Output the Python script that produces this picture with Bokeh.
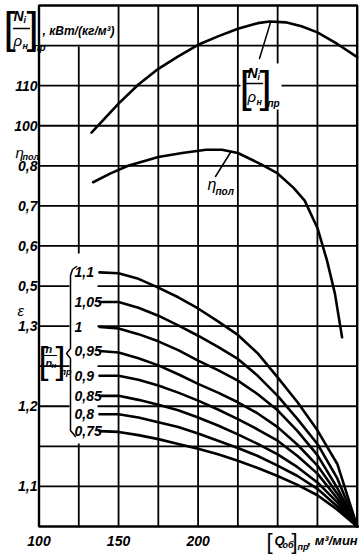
from bokeh.plotting import figure
from bokeh.models import Range1d
from bokeh.embed import file_html
from bokeh.resources import INLINE
from bokeh.core.properties import value

# ---------------- data ----------------
flow_ticks = [100, 125, 150, 175, 200, 225, 250, 275, 300]
flow_labels = {100: "100", 150: "150", 200: "200"}

eps_range = (1.05, 1.70)      # pressure ratio (main axis)
eta_range = (-0.10, 1.20)     # polytropic efficiency
power_range = (0.0, 130.0)    # specific power
eps_step = 0.05
eps_tick_labels = {1.1: "1,1", 1.2: "1,2", 1.3: "1,3"}
eta_tick_labels = {0.5: "0,5", 0.6: "0,6", 0.7: "0,7", 0.8: "0,8"}
power_tick_labels = {100: "100", 110: "110"}

# specific power [N_i / rho_n]_pr , kW/(kg/m3)
q_power = [133, 150, 162.5, 175, 187.5, 200, 212.5, 225, 237.5, 245, 255, 265, 275, 287.5, 300]
power = [98.3, 105.5, 110.3, 114.2, 117.3, 120.2, 122.3, 124.2, 125.6, 126.0, 125.8, 124.8, 123.3, 120.4, 117.1]

# polytropic efficiency
q_eff = [134, 145, 156, 175, 190, 205, 215, 225, 240, 250, 260, 267, 275, 281, 286, 290.5]
eff = [0.759, 0.781, 0.800, 0.822, 0.832, 0.840, 0.840, 0.832, 0.803, 0.781, 0.745, 0.713, 0.645, 0.564, 0.481, 0.372]

# pressure ratio for relative speeds [n/n_n]_pr
speed_ratio = [1.1, 1.05, 1.0, 0.95, 0.9, 0.85, 0.8, 0.75]
q_eps = [138, 150, 162.5, 175, 187.5, 200, 212.5, 225, 237.5, 250, 262.5, 275, 287.5, 300]
eps_110 = [1.367, 1.366, 1.359, 1.348, 1.336, 1.322, 1.306, 1.289, 1.266, 1.236, 1.205, 1.170, 1.128, 1.050]
eps_105 = [1.330, 1.330, 1.323, 1.313, 1.301, 1.288, 1.274, 1.259, 1.238, 1.213, 1.184, 1.153, 1.110, 1.050]
eps_100 = [1.299, 1.297, 1.290, 1.281, 1.270, 1.257, 1.245, 1.232, 1.215, 1.195, 1.169, 1.139, 1.098, 1.050]
eps_095 = [1.269, 1.267, 1.260, 1.251, 1.240, 1.228, 1.217, 1.205, 1.191, 1.174, 1.152, 1.126, 1.091, 1.050]
eps_090 = [1.238, 1.238, 1.233, 1.226, 1.217, 1.207, 1.196, 1.184, 1.171, 1.157, 1.138, 1.116, 1.085, 1.050]
eps_085 = [1.213, 1.213, 1.208, 1.202, 1.195, 1.186, 1.176, 1.165, 1.153, 1.140, 1.124, 1.105, 1.080, 1.050]
eps_080 = [1.190, 1.190, 1.186, 1.180, 1.174, 1.166, 1.157, 1.148, 1.138, 1.126, 1.113, 1.097, 1.075, 1.050]
eps_075 = [1.169, 1.168, 1.164, 1.159, 1.153, 1.147, 1.140, 1.132, 1.123, 1.113, 1.102, 1.089, 1.071, 1.050]
eps_curves = [eps_110, eps_105, eps_100, eps_095, eps_090, eps_085, eps_080, eps_075]

# ---------------- layout / style ----------------
W, H = 364, 556
FR_L, FR_R, FR_T, FR_B = 38.5, 356.7, 5.0, 526.0   # plot-area edges in canvas pixels
FONT = "Liberation Sans"
INK = "black"
CURVE_W = 2.6
GRID_W = 1.8
FRAME_W = 2.4


def px_to_q(px):
    return flow_ticks[0] + (px - FR_L) * (flow_ticks[-1] - flow_ticks[0]) / (FR_R - FR_L)


def py_to(rng, py):
    return rng[1] - (py - FR_T) * (rng[1] - rng[0]) / (FR_B - FR_T)


p = figure(width=W, height=H, output_backend="svg", toolbar_location=None,
           x_axis_type=None, y_axis_type=None,
           x_range=Range1d(px_to_q(0), px_to_q(W)),
           y_range=Range1d(py_to(eps_range, H), py_to(eps_range, 0)),
           min_border=0, background_fill_color="white", border_fill_color="white")
p.outline_line_color = None
p.extra_y_ranges = {
    "eta": Range1d(py_to(eta_range, H), py_to(eta_range, 0)),
    "power": Range1d(py_to(power_range, H), py_to(power_range, 0)),
}


def pos(px, py):
    return px_to_q(px), py_to(eps_range, py)


def qx(px):
    return px_to_q(px)


def ey(py):
    return py_to(eps_range, py)


def to_eps(v, rng):
    return eps_range[0] + (v - rng[0]) / (rng[1] - rng[0]) * (eps_range[1] - eps_range[0])


# ---------------- grid: thin filled bars, left open where labels sit ----------------
def pieces(lo, hi, gaps):
    out, cur = [], lo
    for g0, g1 in sorted(gaps):
        if g1 <= lo or g0 >= hi:
            continue
        out.append((cur, max(cur, g0)))
        cur = max(cur, g1)
    out.append((cur, hi))
    return [(a, b) for a, b in out if b > a]


n_eps = int(round((eps_range[1] - eps_range[0]) / eps_step))
eps_grid = [eps_range[0] + eps_step * k for k in range(n_eps + 1)]
inner_q = flow_ticks[1:-1]
inner_e = eps_grid[1:-1]

half_q = (GRID_W / 2) * (flow_ticks[-1] - flow_ticks[0]) / (FR_R - FR_L)
half_e = (GRID_W / 2) * (eps_range[1] - eps_range[0]) / (FR_B - FR_T)

brace_band = (ey(443), ey(253))
v_gaps = {125: [(ey(46), ey(3)), brace_band], 250: [(ey(109), ey(63))]}
power_label_eps = to_eps(110, power_range)

gl, gr, gb, gt = [], [], [], []
for q in inner_q:
    for a, b in pieces(eps_range[0], eps_range[1], v_gaps.get(q, [])):
        gl.append(q - half_q); gr.append(q + half_q); gb.append(a); gt.append(b)
for e in inner_e:
    gaps = []
    if brace_band[0] < e < brace_band[1]:
        gaps.append((qx(69), qx(97)))
    if abs(e - power_label_eps) < 1e-6:
        gaps.append((qx(240), qx(281)))
    for a, b in pieces(flow_ticks[0], flow_ticks[-1], gaps):
        gl.append(a); gr.append(b); gb.append(e - half_e); gt.append(e + half_e)
p.quad(left=gl, right=gr, bottom=gb, top=gt, fill_color=INK, fill_alpha=1.0, line_color=None)

# frame
p.quad(left=[flow_ticks[0]], right=[flow_ticks[-1]], bottom=[eps_range[0]], top=[eps_range[1]],
       fill_color=None, line_color=INK, line_width=FRAME_W)

# ---------------- curves ----------------
p.line(q_power, power, y_range_name="power", line_color=INK, line_width=CURVE_W,
       line_cap="round", line_join="round")
p.line(q_eff, eff, y_range_name="eta", line_color=INK, line_width=CURVE_W,
       line_cap="round", line_join="round")
for curve in eps_curves:
    p.line(q_eps, curve, line_color=INK, line_width=CURVE_W, line_cap="round", line_join="round")

# ---------------- tick labels ----------------
tick_font = dict(text_font=value(FONT), text_font_size="14px", text_font_style="bold italic",
                 text_color=INK, text_baseline="middle")
x_lab_q = [t for t in flow_ticks if t in flow_labels]
p.text(x=x_lab_q, y=[ey(540)] * len(x_lab_q), text=[flow_labels[t] for t in x_lab_q],
       text_align="center", **tick_font)

y_lab_e, y_lab_t = [], []
for t, s in eps_tick_labels.items():
    y_lab_e.append(t); y_lab_t.append(s)
for t, s in eta_tick_labels.items():
    y_lab_e.append(to_eps(t, eta_range)); y_lab_t.append(s)
for t, s in power_tick_labels.items():
    y_lab_e.append(to_eps(t, power_range)); y_lab_t.append(s)
p.text(x=[qx(37)] * len(y_lab_e), y=y_lab_e, text=y_lab_t, text_align="right", **tick_font)


# ---------------- annotations ----------------
def text(s, px, py, size, style="bold italic", align="left"):
    q, e = pos(px, py)
    p.text(x=[q], y=[e], text=[s], text_font=value(FONT), text_font_size=f"{size}px",
           text_font_style=style, text_align=align, text_baseline="middle", text_color=INK)


def rule(points, w=1.6):
    xs = [qx(pt[0]) for pt in points]
    ys = [ey(pt[1]) for pt in points]
    p.line(xs, ys, line_color=INK, line_width=w, line_cap="round", line_join="round")


# top-left title [N_i / rho_n]_pr , кВт/(кг/м3)
text("[", 3, 27, 44, style="normal")
text("N", 13, 15, 14)
text("i", 23, 19, 9)
rule([(13, 28), (29, 28)], 1.4)
text("ρ", 13, 40, 15, style="italic")
text("н", 22, 45, 9)
text("]", 26, 27, 44, style="normal")
text("пр", 33, 47, 10)
text(", кВт/(кг/м³)", 42, 30, 12)

# left side titles
text("η", 15, 152, 15, style="italic")
text("пол", 22, 156, 9)
text("ε", 17, 310, 15, style="italic")

# label at the power curve
text("[", 239, 86, 44, style="normal")
text("N", 247, 72, 14)
text("i", 257, 76, 9)
rule([(246, 83), (262, 83)], 1.4)
text("ρ", 247, 96, 15, style="italic")
text("н", 256, 101, 9)
text("]", 259, 86, 44, style="normal")
text("пр", 267, 103, 10)
rule([(259, 58), (270, 22)], 1.5)

# label at the efficiency curve
text("η", 207, 184, 16, style="italic")
text("пол", 215, 191, 10)
rule([(215, 176), (230, 152)], 1.5)

# [n / n_n]_pr with brace
text("[", 38, 360, 36, style="normal")
text("n", 45, 348, 11)
rule([(44, 355), (56, 355)], 1.2)
text("n", 45, 362, 11)
text("н", 51, 365, 8)
text("]", 55, 360, 36, style="normal")
text("пр", 60, 371, 9)
rule([(76, 266), (72, 269), (70, 275), (70, 348), (66, 353), (70, 358), (70, 430), (75, 436)], 1.5)

p.text(x=[qx(74)] * len(speed_ratio), y=[c[0] for c in eps_curves],
       text=[f"{r:g}".replace(".", ",") for r in speed_ratio], text_align="left", **tick_font)

# x axis title [Q_об]_пр , м³/мин
text("[", 266, 541, 22, style="normal")
text("Q", 274, 540, 13)
text("об", 282, 544, 9)
text("]", 291, 541, 22, style="normal")
text("пр", 297, 546, 9)
text(", м³/мин", 307, 540, 13)

open("out.html", "w").write(file_html(p, INLINE))
